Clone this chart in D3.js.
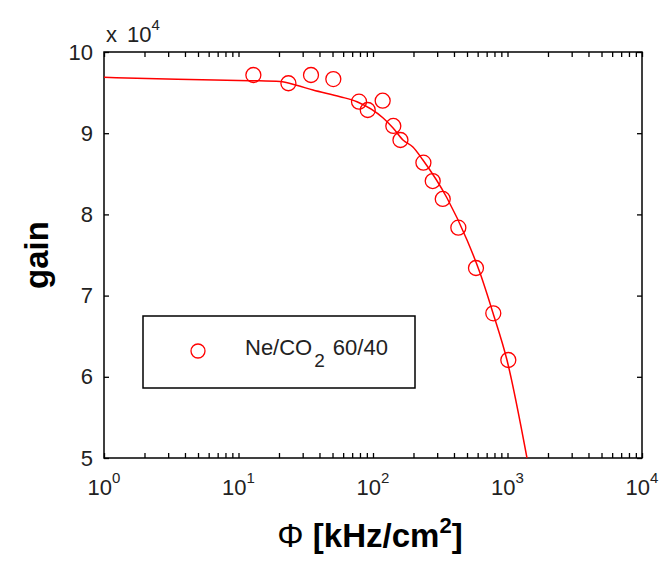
<!DOCTYPE html>
<html>
<head>
<meta charset="utf-8">
<script src="https://cdn.jsdelivr.net/npm/d3@7/dist/d3.min.js"></script>
<style>
  html, body { margin: 0; padding: 0; background: #fff; }
  svg { display: block; font-family: "Liberation Sans", Arial, sans-serif; }
</style>
</head>
<body>
<svg id="chart" width="663" height="562"></svg>
<script>
// Measured data points (flux kHz/cm^2, gain)
const phiData  = [12.9, 23.5, 34.6, 50.7, 78.7, 91.4, 118, 141.6, 160, 237, 278, 330, 431, 583, 784, 1014];
const gainData = [97170, 96150, 97170, 96670, 93880, 92860, 94000, 90890, 89160, 86370, 84110, 81900, 78360, 73400, 67820, 62070];

// Fit curve
const fitPhi  = [1, 3.5, 12.2, 20.4, 27, 35.8, 56.9, 76, 119, 141, 167, 198, 235, 355, 500, 625, 780, 991, 1396];
const fitGain = [96880, 96640, 96470, 96370, 95900, 95320, 94500, 93880, 91870, 90640, 89160, 88300, 86700, 82020, 76850, 72780, 67860, 62070, 50000];

// Tick values
const xMajor = [1, 10, 100, 1000, 10000];
const xExponents = ["0", "1", "2", "3", "4"];
const yTicks = [50000, 60000, 70000, 80000, 90000, 100000];

const legendLabel = "Ne/CO";
const legendSub = "2";
const legendRest = "60/40";

const svg = d3.select("#chart");
const L = 104, R = 642, T = 52, B = 458;

const x = d3.scaleLog().domain([1, 10000]).range([L, R]);
const y = d3.scaleLinear().domain([50000, 100000]).range([B, T]);

const xMinor = [];
for (let d = 0; d < 4; d++) for (let k = 2; k <= 9; k++) xMinor.push(k * Math.pow(10, d));
const xAll = xMajor.concat(xMinor);

svg.append("defs").append("clipPath").attr("id", "clip")
  .append("rect").attr("x", L).attr("y", T).attr("width", R - L).attr("height", B - T);

svg.append("rect").attr("x", 0).attr("y", 0).attr("width", 663).attr("height", 562).attr("fill", "#fff");

function styleAxis(g) {
  g.select(".domain").remove();
  g.selectAll(".tick line").attr("stroke", "#000").attr("stroke-width", 1.3);
}
svg.append("g").attr("transform", `translate(0,${B})`)
  .call(d3.axisBottom(x).tickValues(xAll).tickSize(-5).tickFormat(""))
  .call(styleAxis);
svg.append("g").attr("transform", `translate(0,${T})`)
  .call(d3.axisTop(x).tickValues(xAll).tickSize(-5).tickFormat(""))
  .call(styleAxis);
svg.append("g").attr("transform", `translate(${L},0)`)
  .call(d3.axisLeft(y).tickValues(yTicks).tickSize(-5).tickPadding(11).tickFormat(d => d / 1e4))
  .call(styleAxis)
  .call(g => g.selectAll(".tick text").attr("font-size", 22).attr("fill", "#222")
    .attr("font-family", "Liberation Sans, Arial, sans-serif"));
svg.append("g").attr("transform", `translate(${R},0)`)
  .call(d3.axisRight(y).tickValues(yTicks).tickSize(-5).tickFormat(""))
  .call(styleAxis);

svg.append("rect").attr("x", L).attr("y", T).attr("width", R - L).attr("height", B - T)
  .attr("fill", "none").attr("stroke", "#000").attr("stroke-width", 1.5);

xMajor.forEach((v, i) => {
  const t = svg.append("text").attr("x", x(v)).attr("y", 495)
    .attr("text-anchor", "middle").attr("font-size", 22).attr("fill", "#222");
  t.append("tspan").text("10");
  t.append("tspan").attr("font-size", 15).attr("dy", -12).text(xExponents[i]);
});

svg.append("text").attr("x", 106).attr("y", 42).attr("font-size", 22).attr("fill", "#222").text("x");
const m = svg.append("text").attr("x", 127).attr("y", 42).attr("font-size", 22).attr("fill", "#222");
m.append("tspan").text("10");
m.append("tspan").attr("font-size", 15).attr("dy", -12).text("4");

const fitPts = fitPhi.map((p, i) => [p, fitGain[i]]);
svg.append("path").attr("clip-path", "url(#clip)")
  .datum(fitPts)
  .attr("d", d3.line().x(d => x(d[0])).y(d => y(d[1])).curve(d3.curveMonotoneX))
  .attr("fill", "none").attr("stroke", "#ff0000").attr("stroke-width", 1.5);

svg.append("g").selectAll("circle").data(phiData.map((p, i) => [p, gainData[i]]))
  .join("circle")
  .attr("cx", d => x(d[0])).attr("cy", d => y(d[1])).attr("r", 7.5)
  .attr("fill", "none").attr("stroke", "#ff0000").attr("stroke-width", 1.3);

svg.append("rect").attr("x", 143).attr("y", 316).attr("width", 272).attr("height", 72)
  .attr("fill", "#fff").attr("stroke", "#000").attr("stroke-width", 1.5);
svg.append("circle").attr("cx", 198).attr("cy", 351).attr("r", 7)
  .attr("fill", "none").attr("stroke", "#ff0000").attr("stroke-width", 1.3);
const lt = svg.append("text").attr("x", 245).attr("y", 355).attr("font-size", 22).attr("fill", "#222");
lt.append("tspan").text(legendLabel);
lt.append("tspan").attr("font-size", 19).attr("dy", 12).attr("dx", 2).text(legendSub);
lt.append("tspan").attr("dy", -12).attr("dx", 8).text(legendRest);

const xl = svg.append("text").attr("x", 370).attr("y", 547).attr("text-anchor", "middle")
  .attr("font-size", 33).attr("font-weight", "bold").attr("fill", "#000");
xl.append("tspan").attr("font-weight", "normal").text("Φ");
xl.append("tspan").text(" [kHz/cm");
xl.append("tspan").attr("font-size", 22).attr("dy", -14).text("2");
xl.append("tspan").attr("dy", 14).text("]");

svg.append("text").attr("transform", "translate(48,255) rotate(-90)")
  .attr("text-anchor", "middle").attr("font-size", 33).attr("font-weight", "bold").attr("fill", "#000")
  .text("gain");
</script>
</body>
</html>
